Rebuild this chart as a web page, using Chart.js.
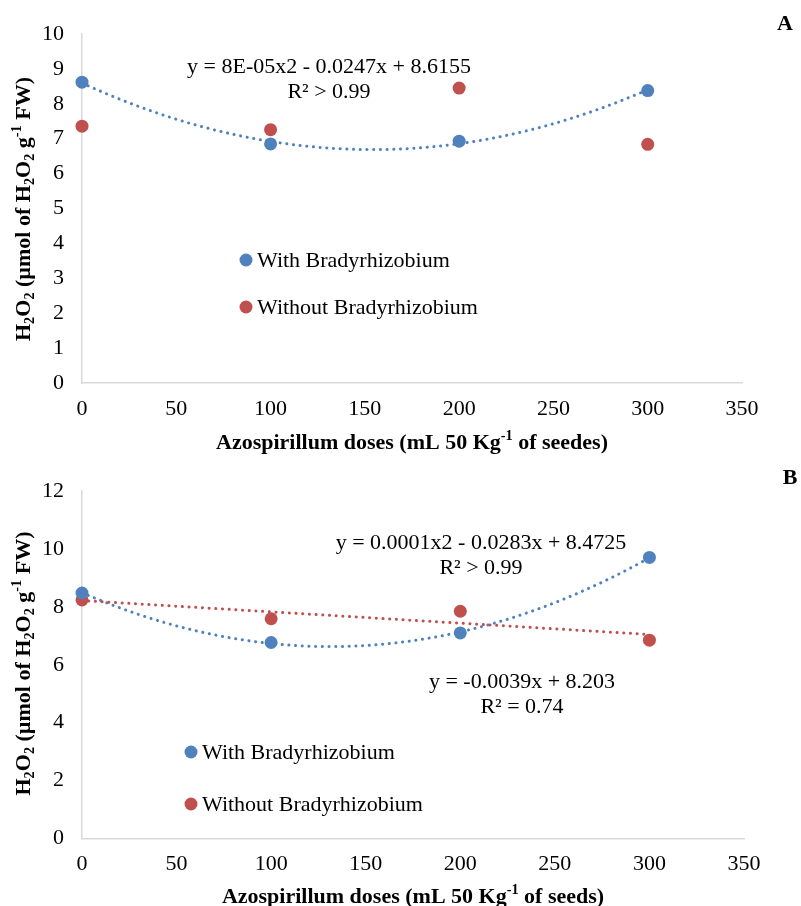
<!DOCTYPE html>
<html>
<head>
<meta charset="utf-8">
<script src="https://cdn.jsdelivr.net/npm/chart.js@4.4.1/dist/chart.umd.min.js"></script>
<style>
html,body{margin:0;padding:0;background:#fff}
#wrap{position:relative;width:801px;height:906px;overflow:hidden}
canvas{position:absolute;left:0}
</style>
</head>
<body>
<div id="wrap">
<canvas id="chartA" width="801" height="460" style="top:0"></canvas>
<canvas id="chartB" width="801" height="446" style="top:460px"></canvas>
</div>
<script>

// valores
let doses=[0,100,200,300]
let xTicks=[0,50,100,150,200,250,300,350]

let comBradyA=[8.62,6.85,6.93,8.38]
let semBradyA=[7.36,7.26,8.45,6.84]
let yTicksA=[0,1,2,3,4,5,6,7,8,9,10]

let comBradyB=[8.48,6.77,7.10,9.71]
let semBradyB=[8.24,7.59,7.85,6.85]
let yTicksB=[0,2,4,6,8,10,12]

let nomes=['With Bradyrhizobium','Without Bradyrhizobium']
let eqA=['y = 8E-05x2 - 0.0247x + 8.6155','R² > 0.99']
let eqB1=['y = 0.0001x2 - 0.0283x + 8.4725','R² > 0.99']
let eqB2=['y = -0.0039x + 8.203','R² = 0.74']

let AZUL='#4f81bd'
let VERMELHO='#c0504d'
let FONTE="'Liberation Serif','Times New Roman',serif"

// minimos quadrados (grau 1 ou 2)
function ajustar(xs,ys,grau){
let n=grau+1
let m=[]
for(let i=0;i<n;i++){
m[i]=[]
for(let j=0;j<n;j++){
m[i][j]=xs.reduce((s,x)=>s+Math.pow(x,i+j),0)
}
m[i][n]=xs.reduce((s,x,k)=>s+Math.pow(x,i)*ys[k],0)
}
for(let i=0;i<n;i++){
for(let k=i+1;k<n;k++){
let f=m[k][i]/m[i][i]
for(let j=i;j<=n;j++)m[k][j]-=f*m[i][j]
}
}
let c=new Array(n).fill(0)
for(let i=n-1;i>=0;i--){
let s=m[i][n]
for(let j=i+1;j<n;j++)s-=m[i][j]*c[j]
c[i]=s/m[i][i]
}
return c
}

// texto com sub/sobrescrito: partes [texto, 0 normal | -1 sub | 1 sup]
function larguraRica(ctx,partes,tam,peso){
let w=0
partes.forEach(p=>{
let t=p[1]===0?tam:tam*0.65
ctx.font=peso+' '+t+'px '+FONTE
w+=ctx.measureText(p[0]).width
})
return w
}

function textoRico(ctx,partes,cx,cy,tam,peso){
ctx.textBaseline='middle'
ctx.textAlign='left'
let x=cx-larguraRica(ctx,partes,tam,peso)/2
partes.forEach(p=>{
let t=p[1]===0?tam:tam*0.65
ctx.font=peso+' '+t+'px '+FONTE
let dy=p[1]===-1?tam*0.28:p[1]===1?-tam*0.3:0
ctx.fillText(p[0],x,cy+dy)
x+=ctx.measureText(p[0]).width
})
}

let extras={
id:'extras',
beforeDatasetsDraw(chart,args,o){
let ctx=chart.ctx
let sx=chart.scales.x
let sy=chart.scales.y
;(o.tendencias||[]).forEach(t=>{
let c=ajustar(doses,t.dados,t.grau)
ctx.save()
ctx.strokeStyle=t.cor
ctx.lineWidth=3
ctx.lineCap='round'
ctx.setLineDash([0.1,6.6])
ctx.beginPath()
for(let x=0;x<=300;x+=2){
let y=c.reduce((s,k,i)=>s+k*Math.pow(x,i),0)
let px=sx.getPixelForValue(x)
let py=sy.getPixelForValue(y)
if(x===0)ctx.moveTo(px,py)
else ctx.lineTo(px,py)
}
ctx.stroke()
ctx.restore()
})
},
afterDraw(chart,args,o){
let ctx=chart.ctx
ctx.save()
ctx.fillStyle='#000'

// legenda
chart.data.datasets.forEach((d,i)=>{
let lx=o.legenda.x
let ly=o.legenda.y+i*o.legenda.passo
ctx.fillStyle=d.backgroundColor
ctx.beginPath()
ctx.arc(lx,ly,6.5,0,Math.PI*2)
ctx.fill()
ctx.fillStyle='#000'
ctx.font='22px '+FONTE
ctx.textAlign='left'
ctx.textBaseline='middle'
ctx.fillText(d.label,lx+11,ly+1)
})

// equacoes
ctx.font='22px '+FONTE
ctx.textAlign='center'
ctx.textBaseline='middle'
;(o.equacoes||[]).forEach(e=>{
e.linhas.forEach((l,i)=>ctx.fillText(l,e.x,e.y+i*25))
})

// letra do painel
ctx.font='bold 22px '+FONTE
ctx.fillText(o.letra.t,o.letra.x,o.letra.y)

// titulo eixo x
textoRico(ctx,o.tituloX.partes,o.tituloX.x,o.tituloX.y,22,'bold')

// titulo eixo y
ctx.translate(o.tituloY.x,o.tituloY.y)
ctx.rotate(-Math.PI/2)
textoRico(ctx,[['H',0],['2',-1],['O',0],['2',-1],[' (µmol of H',0],['2',-1],['O',0],['2',-1],[' g',0],['-1',1],[' FW)',0]],0,0,22,'bold')
ctx.restore()
}
}

function montarGrafico(id,altura,area,serieCom,serieSem,yTicks,yMax,plug){
let ctx=document.getElementById(id)
return new Chart(ctx,{
type:'scatter',
data:{
datasets:[
{label:nomes[0],data:doses.map((x,i)=>({x:x,y:serieCom[i]})),backgroundColor:AZUL,borderWidth:0,pointRadius:6.5,pointHoverRadius:6.5,clip:false},
{label:nomes[1],data:doses.map((x,i)=>({x:x,y:serieSem[i]})),backgroundColor:VERMELHO,borderWidth:0,pointRadius:6.5,pointHoverRadius:6.5,clip:false}
]
},
options:{
responsive:false,
animation:false,
layout:{padding:{left:0,right:801-area.right,top:area.top,bottom:0}},
plugins:{
legend:{display:false},
tooltip:{enabled:false},
extras:plug
},
scales:{
x:{
type:'linear',
min:0,
max:350,
afterBuildTicks:s=>{s.ticks=xTicks.map(v=>({value:v}))},
afterFit:s=>{s.height=altura-area.bottom},
ticks:{color:'#000',font:{family:FONTE,size:22},padding:13,maxRotation:0},
grid:{display:false,drawTicks:false},
border:{color:'#d9d9d9',width:1.5}
},
y:{
min:0,
max:yMax,
afterBuildTicks:s=>{s.ticks=yTicks.map(v=>({value:v}))},
afterFit:s=>{s.width=area.left},
ticks:{color:'#000',font:{family:FONTE,size:22},padding:18},
grid:{display:false,drawTicks:false},
border:{color:'#d9d9d9',width:1.5}
}
}
},
plugins:[extras]
})
}

montarGrafico('chartA',460,{left:82,right:742,top:34,bottom:383},comBradyA,semBradyA,yTicksA,10,{
tendencias:[{dados:comBradyA,grau:2,cor:AZUL}],
legenda:{x:246,y:260,passo:47},
equacoes:[{linhas:eqA,x:329,y:67}],
letra:{t:'A',x:785,y:24},
tituloX:{partes:[['Azospirillum doses (mL 50 Kg',0],['-1',1],[' of seedes)',0]],x:412,y:443},
tituloY:{x:24,y:209}
})

montarGrafico('chartB',446,{left:82,right:744,top:27.7,bottom:378.3},comBradyB,semBradyB,yTicksB,12,{
tendencias:[{dados:comBradyB,grau:2,cor:AZUL},{dados:semBradyB,grau:1,cor:VERMELHO}],
legenda:{x:191,y:292,passo:52},
equacoes:[{linhas:eqB1,x:481,y:83},{linhas:eqB2,x:522,y:222}],
letra:{t:'B',x:790,y:18},
tituloX:{partes:[['Azospirillum doses (mL 50 Kg',0],['-1',1],[' of seeds)',0]],x:413,y:437},
tituloY:{x:24,y:203.5}
})

</script>
</body>
</html>
